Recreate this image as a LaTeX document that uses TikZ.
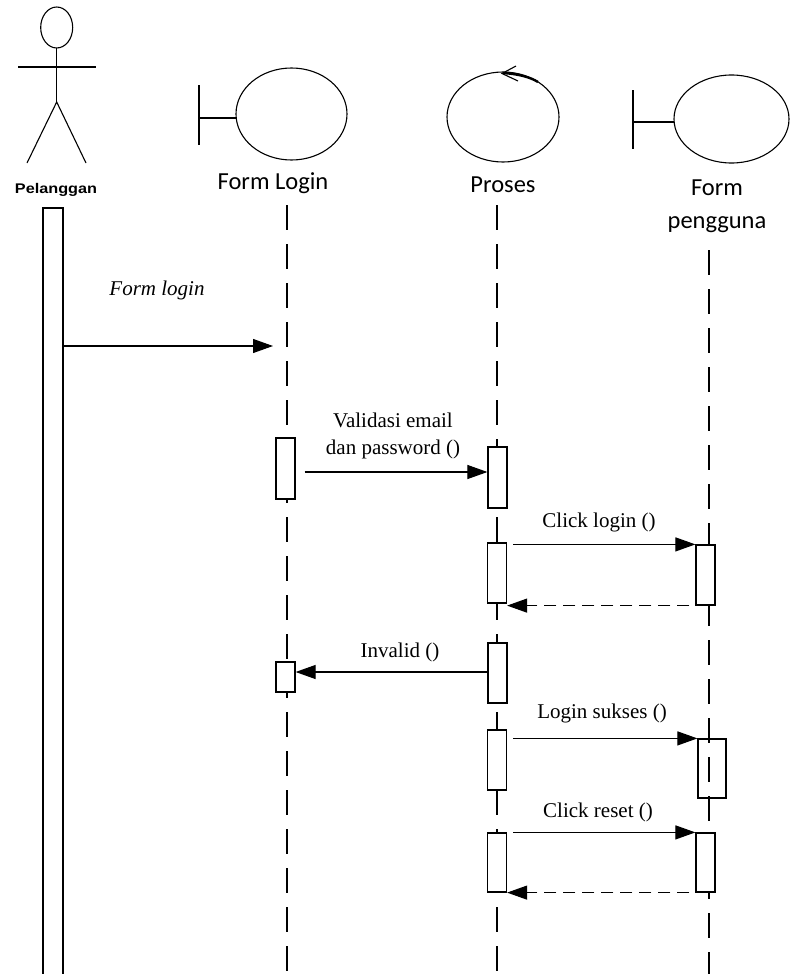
\documentclass[tikz,border=0pt]{standalone}
\usepackage{fontspec}
\setmainfont{Liberation Serif}
\newfontfamily\calfont{Carlito}
\newfontfamily\arialfont{Liberation Sans}
\usetikzlibrary{arrows.meta,calc}
\begin{document}
\begin{tikzpicture}[x=1pt,y=-1pt,line width=1.1pt,
  ln/.style={line width=1.1pt},
  lifeline/.style={line width=1.1pt,dash pattern=on 25pt off 14pt},
  actbox/.style={draw,fill=white,inner sep=0pt,minimum width=19pt,line width=1.2pt},
  actboxclear/.style={draw,inner sep=0pt,minimum width=28pt,line width=1.2pt},
  msg/.style={line width=1.1pt,-{Triangle[length=20pt,width=14pt]}},
  ret/.style={line width=1.1pt,dash pattern=on 12pt off 7pt,-{Triangle[length=20pt,width=14pt]}},
  lbl/.style={font=\fontsize{21}{27}\selectfont,inner sep=0pt,align=center},
  hdr/.style={font=\calfont\fontsize{24.5}{33}\selectfont,inner sep=0pt,align=center}]
\useasboundingbox (0,0) rectangle (790,974);

% actor
\draw[ln] (56.7,27.5) ellipse (16 and 20.5);
\draw[ln] (56.7,48) -- (56.7,102);
\draw[ln] (18,67) -- (96,67);
\draw[ln] (27,163) -- (56.7,102) -- (86,163);
\node[inner sep=0pt] (pel) at (56,190) {\arialfont\bfseries\fontsize{14}{16}\selectfont\scalebox{1.16}[1]{Pelanggan}};
\draw[ln] (43,990) -- (43,208) -- (63,208) -- (63,990);
\coordinate (actr) at (63,346);

% Form Login boundary
\draw[ln] (199,85) -- (199,145);
\draw[ln] (199,118) -- (236,118);
\draw[ln] (291.5,114) ellipse (55.5 and 46);
\node[hdr] (hfl) at (273,183) {Form Login};

% Proses control
\draw[ln] (503,117) ellipse (56 and 45);
\draw[ln] (516,66) -- (502,73.5) -- (518,81);
\draw[line width=2.4pt] (503,73) .. controls (518,74) and (530,77) .. (538,82);
\node[hdr] (hpr) at (503,185) {Proses};

% Form pengguna boundary
\draw[ln] (633,90) -- (633,149);
\draw[ln] (633,122) -- (674,122);
\draw[ln] (731.5,119) ellipse (57.5 and 44);
\node[hdr] (hfp) at (717,206) {Form\\pengguna};

% lifelines
\draw[lifeline] (287,205) -- (287,990);
\draw[lifeline] (497,205) -- (497,990);
\draw[lifeline] (709,250) -- (709,990);

% activation boxes
\node[actbox,minimum height=61pt] (fl1) at (285.5,468.5) {};
\node[actbox,minimum height=61pt] (pr1) at (497.5,477.5) {};
\node[actbox,minimum height=60pt] (pr2) at (497,573) {};
\node[actbox,minimum height=60pt] (fp1) at (705.5,575) {};
\node[actbox,minimum height=30pt] (fl2) at (285.5,677) {};
\node[actbox,minimum height=60pt] (pr3) at (497.5,673) {};
\node[actbox,minimum height=60pt] (pr4) at (497,760) {};
\node[actboxclear,minimum height=59pt] (fp2) at (712,768.5) {};
\node[actbox,minimum height=59pt] (pr5) at (497,862.5) {};
\node[actbox,minimum height=59pt] (fp3) at (705.5,862.5) {};

% messages
\coordinate (m1end) at (273,346);
\draw[msg] (actr) -- (m1end);
\node[lbl,font=\itshape\fontsize{21}{27}\selectfont] (l1) at (157,290) {Form login};

\coordinate (m2) at (0,472);
\draw[msg,shorten <=9pt] (fl1.east |- m2) -- (pr1.west |- m2);
\node[lbl] (l2) at (393,436) {Validasi email\\dan password ()};

\draw[msg,shorten <=6pt] (pr2.east |- fp1.north) -- (fp1.north west);
\node[lbl] (l3) at (599,522) {Click login ()};
\draw[ret,shorten <=6pt] (fp1.south west) -- (pr2.east |- fp1.south);

\coordinate (m4) at (0,672);
\draw[msg] (pr3.west |- m4) -- (fl2.east |- m4);
\node[lbl] (l4) at (400,652) {Invalid ()};

\draw[msg,shorten <=6pt] (pr4.east |- fp2.north) -- (fp2.north west);
\node[lbl] (l5) at (602,713) {Login sukses ()};

\draw[msg,shorten <=6pt] (pr5.north east) -- (fp3.north west);
\node[lbl] (l6) at (598,812) {Click reset ()};
\draw[ret,shorten <=6pt] (fp3.south west) -- (pr5.south east);
\end{tikzpicture}
\end{document}
